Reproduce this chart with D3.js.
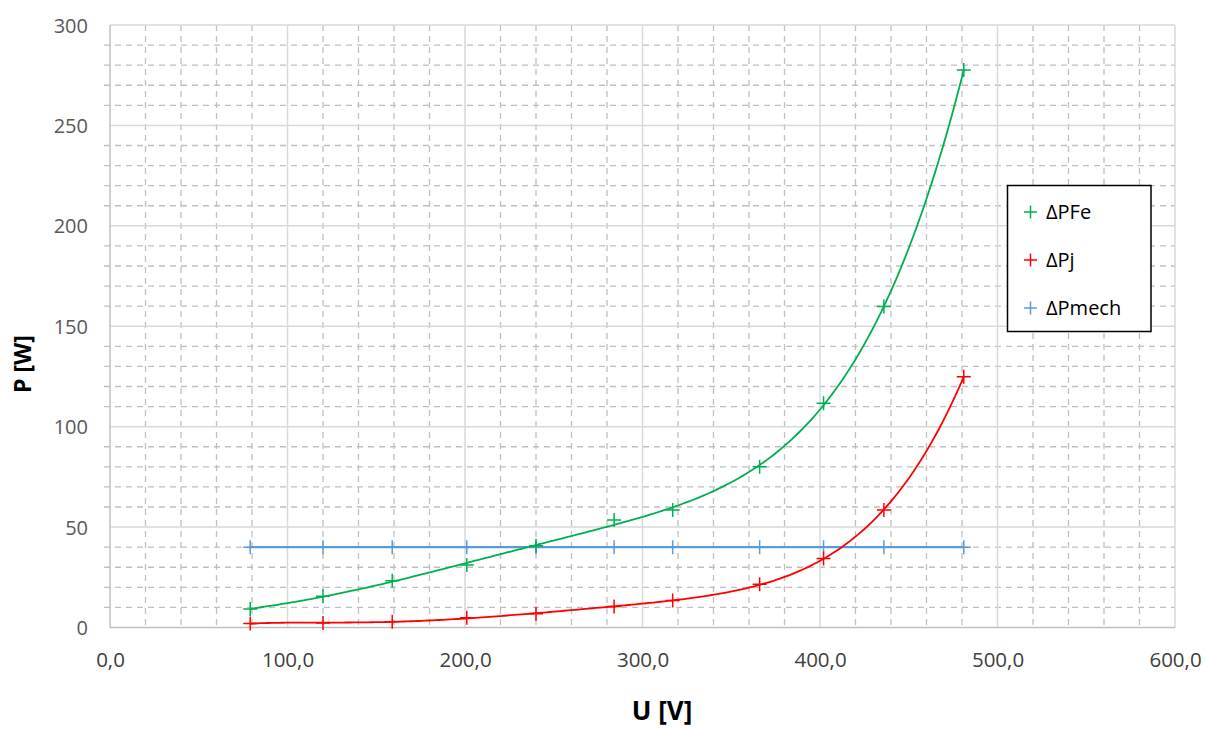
<!DOCTYPE html>
<html><head><meta charset="utf-8">
<script src="https://cdn.jsdelivr.net/npm/d3@7"></script>
<style>body{margin:0;background:#fff;} svg{display:block;}</style>
</head><body>
<svg id="c" width="1207" height="729"></svg>
<script>
const uValues = [79, 120, 159, 201, 240, 284, 317, 366, 402, 436, 481];
const pFe    = [9.2, 15.5, 23.3, 31.1, 40.7, 53.5, 58.5, 80, 111.6, 159.8, 277.6];
const pJ     = [2.0, 2.2, 2.9, 4.9, 6.9, 10.4, 13.4, 21.5, 34.3, 58.5, 124.9];
const pMech  = [40, 40, 40, 40, 40, 40, 40, 40, 40, 40, 40];
const seriesNames = ["ΔPFe", "ΔPj", "ΔPmech"];
const seriesColors = ["#00B050", "#FF0000", "#5B9BD5"];
const xTicks = [0, 100, 200, 300, 400, 500, 600];
const yTicks = [0, 50, 100, 150, 200, 250, 300];

// least-squares polynomial trend (like a spreadsheet trendline)
function polyFit(xs, ys, deg) {
  const n = deg + 1, t = xs.map(v => (v - 280) / 200);
  const A = Array.from({length: n}, () => new Array(n + 1).fill(0));
  t.forEach((tv, k) => {
    for (let i = 0; i < n; i++) {
      for (let j = 0; j < n; j++) A[i][j] += Math.pow(tv, i + j);
      A[i][n] += ys[k] * Math.pow(tv, i);
    }
  });
  for (let i = 0; i < n; i++) {
    let p = i; for (let r = i + 1; r < n; r++) if (Math.abs(A[r][i]) > Math.abs(A[p][i])) p = r;
    [A[i], A[p]] = [A[p], A[i]];
    for (let r = 0; r < n; r++) if (r !== i) {
      const f = A[r][i] / A[i][i];
      for (let c = i; c <= n; c++) A[r][c] -= f * A[i][c];
    }
  }
  const coef = A.map((row, i) => row[n] / row[i]);
  return u => { const tv = (u - 280) / 200; return coef.reduce((s, c, i) => s + c * Math.pow(tv, i), 0); };
}

const svg = d3.select("#c");
const L = 110, R = 1175, T = 25, B = 627.5;
const x = d3.scaleLinear().domain([0, 600]).range([L, R]);
const y = d3.scaleLinear().domain([0, 300]).range([B, T]);

const g = svg.append("g");
g.selectAll(".vmin").data(d3.range(20, 600, 20).filter(v => v % 100 !== 0)).enter()
  .append("line").attr("x1", d => x(d)).attr("x2", d => x(d)).attr("y1", T).attr("y2", B)
  .attr("stroke", "#BFBFBF").attr("stroke-width", 1.3).attr("stroke-dasharray", "6,5");
g.selectAll(".hmin").data(d3.range(10, 300, 10).filter(v => v % 50 !== 0)).enter()
  .append("line").attr("y1", d => y(d)).attr("y2", d => y(d)).attr("x1", L - 6).attr("x2", R)
  .attr("stroke", "#BFBFBF").attr("stroke-width", 1.3).attr("stroke-dasharray", "6,5");
g.selectAll(".vmaj").data(xTicks.slice(1)).enter()
  .append("line").attr("x1", d => x(d)).attr("x2", d => x(d)).attr("y1", T).attr("y2", B)
  .attr("stroke", "#D9D9D9").attr("stroke-width", 1.5);
g.selectAll(".hmaj").data(yTicks.slice(1)).enter()
  .append("line").attr("y1", d => y(d)).attr("y2", d => y(d)).attr("x1", L).attr("x2", R)
  .attr("stroke", "#D9D9D9").attr("stroke-width", 1.5);
g.append("line").attr("x1", L).attr("x2", L).attr("y1", T).attr("y2", B).attr("stroke", "#BFBFBF").attr("stroke-width", 1.5);
g.append("line").attr("x1", L).attr("x2", R).attr("y1", B).attr("y2", B).attr("stroke", "#BFBFBF").attr("stroke-width", 1.5);

const xAxis = d3.axisBottom(x).tickValues(xTicks).tickSize(0).tickPadding(0)
  .tickFormat(d => d3.format(".1f")(d).replace(".", ","));
const xa = svg.append("g").attr("transform", `translate(0,667)`).call(xAxis);
xa.select(".domain").remove();
xa.selectAll("text").attr("font-family", "'Open Sans',sans-serif")
  .attr("font-size", 20.5).attr("fill", "#404040").attr("dy", 0);

const yAxis = d3.axisLeft(y).tickValues(yTicks).tickSize(0).tickPadding(0);
const ya = svg.append("g").attr("transform", `translate(88,0)`).call(yAxis);
ya.select(".domain").remove();
ya.selectAll("text").attr("font-family", "'Open Sans',sans-serif").attr("font-size", 20)
  .attr("fill", "#595959").attr("dy", "0.35em");

svg.append("text").attr("x", 662).attr("y", 720).attr("text-anchor", "middle")
  .attr("font-family", "'Open Sans',sans-serif").attr("font-weight", "bold").attr("font-size", 26)
  .attr("fill", "#000").text("U [V]");
svg.append("text").attr("transform", `translate(31,364) rotate(-90)`).attr("text-anchor", "middle")
  .attr("font-family", "'Open Sans',sans-serif").attr("font-weight", "bold").attr("font-size", 23)
  .attr("fill", "#000").text("P [W]");

const allSeries = [pFe, pJ, pMech];
const line = d3.line().x(d => x(d[0])).y(d => y(d[1])).curve(d3.curveLinear);
const order = [2, 0, 1];
order.forEach(i => {
  const pts = uValues.map((u, k) => [u, allSeries[i][k]]);
  let curvePts;
  if (i === 2) curvePts = pts;
  else {
    const f = polyFit(uValues, allSeries[i], 5);
    const u0 = uValues[0], u1 = uValues[uValues.length - 1];
    curvePts = d3.range(0, 201).map(k => { const u = u0 + (u1 - u0) * k / 200; return [u, f(u)]; });
  }
  svg.append("path").attr("d", line(curvePts)).attr("fill", "none")
    .attr("stroke", seriesColors[i]).attr("stroke-width", i === 2 ? 2.2 : 1.8);
  const m = 7;
  svg.append("g").selectAll("path").data(pts).enter().append("path")
    .attr("d", d => `M${x(d[0]) - m},${y(d[1])}h${2 * m}M${x(d[0])},${y(d[1]) - m}v${2 * m}`)
    .attr("stroke", seriesColors[i]).attr("stroke-width", 1.5).attr("fill", "none");
});

const lg = svg.append("g");
lg.append("rect").attr("x", 1007.5).attr("y", 185.5).attr("width", 143.5).attr("height", 146)
  .attr("fill", "#fff").attr("stroke", "#000").attr("stroke-width", 1.5);
seriesNames.forEach((n, i) => {
  const cy = 212 + i * 48;
  lg.append("path").attr("d", `M${1024},${cy}h13M${1030.5},${cy - 6.5}v13`)
    .attr("stroke", seriesColors[i]).attr("stroke-width", 1.5);
  lg.append("text").attr("x", 1046).attr("y", cy).attr("dy", "0.35em")
    .attr("font-family", "'Open Sans',sans-serif").attr("font-size", 20).attr("fill", "#000").text(n);
});
</script>
</body></html>
